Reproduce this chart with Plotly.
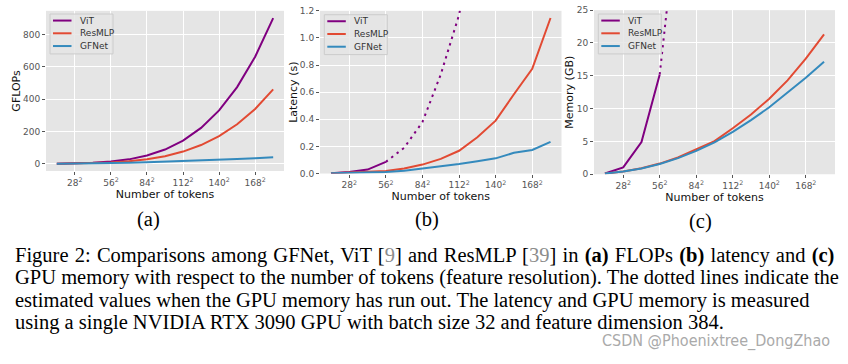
import plotly.graph_objects as go

# ---------------- data ----------------
sides = [14, 28, 42, 56, 70, 84, 98, 112, 126, 140, 154, 168, 182]
tick_sides = [28, 56, 84, 112, 140, 168]
tick_labels = ["28<sup>2</sup>", "56<sup>2</sup>", "84<sup>2</sup>", "112<sup>2</sup>",
               "140<sup>2</sup>", "168<sup>2</sup>"]

# (a) GFLOPs
vit_flops = [0.4, 1.9, 5.5, 13.1, 27.1, 50.7, 87.8, 143, 222, 330, 474, 662, 901]
resmlp_flops = [0.25, 1.2, 3.3, 7.5, 15.0, 27.4, 46.7, 75.2, 115.5, 170.6, 244, 339, 460]
gfnet_flops = [0.24, 0.95, 2.1, 3.8, 5.9, 8.5, 11.6, 15.1, 19.1, 23.6, 28.6, 34.0, 40.0]

# (b) latency (s)
vit_lat_sides = [14, 28, 42, 56]
vit_lat = [0.003, 0.011, 0.029, 0.086]
vit_lat_est_sides = [56, 70, 84, 98, 112, 126]
vit_lat_est = [0.086, 0.19, 0.38, 0.73, 1.17, 1.85]
resmlp_lat = [0.003, 0.007, 0.012, 0.019, 0.037, 0.066, 0.108, 0.168, 0.268, 0.39, 0.585, 0.772, 1.147]
gfnet_lat = [0.002, 0.004, 0.007, 0.012, 0.021, 0.036, 0.055, 0.071, 0.091, 0.112, 0.153, 0.174, 0.234]

# (c) memory (GB)
vit_mem_sides = [14, 28, 42, 56]
vit_mem = [0.1, 1.05, 4.9, 15.2]
vit_mem_est_sides = [56, 70, 84]
vit_mem_est = [15.2, 34.5, 66.0]
resmlp_mem = [0.1, 0.42, 0.92, 1.62, 2.55, 3.75, 5.05, 7.0, 9.1, 11.5, 14.3, 17.6, 21.3]
gfnet_mem = [0.1, 0.4, 0.88, 1.55, 2.45, 3.55, 4.85, 6.45, 8.25, 10.2, 12.45, 14.7, 17.15]

names = ["ViT", "ResMLP", "GFNet"]
colors = {"ViT": "#800080", "ResMLP": "#E24A33", "GFNet": "#348ABD"}

# ---------------- layout helpers ----------------
W, H = 848, 364
def px(x):
    return x / W
def py(y):
    return 1 - y / H
def xd(a, b):
    return [px(a), px(b)]
def yd(top, bottom):
    return [py(bottom), py(top)]

TICKFONT = dict(family="DejaVu Sans", size=9, color="#555555")
TITLEFONT = dict(family="DejaVu Sans", size=11, color="#111111")
LW = 2
DOT = "2.4px,4.4px"

fig = go.Figure()

def add(x, y, name, ax, dash=None):
    fig.add_trace(go.Scatter(
        x=x, y=y, mode="lines", name=name,
        line=dict(color=colors[name], width=LW, dash=dash),
        xaxis="x" + ax, yaxis="y" + ax,
        showlegend=False, hoverinfo="skip"))

# panel a
add(sides, vit_flops, "ViT", "")
add(sides, resmlp_flops, "ResMLP", "")
add(sides, gfnet_flops, "GFNet", "")
# panel b
add(vit_lat_sides, vit_lat, "ViT", "2")
add(vit_lat_est_sides, vit_lat_est, "ViT", "2", dash=DOT)
add(sides, resmlp_lat, "ResMLP", "2")
add(sides, gfnet_lat, "GFNet", "2")
# panel c
add(vit_mem_sides, vit_mem, "ViT", "3")
add(vit_mem_est_sides, vit_mem_est, "ViT", "3", dash=DOT)
add(sides, resmlp_mem, "ResMLP", "3")
add(sides, gfnet_mem, "GFNet", "3")

def xaxis(dom, anchor):
    return dict(domain=dom, anchor=anchor, range=[5.6, 190.4],
                tickvals=tick_sides, ticktext=tick_labels,
                ticks="outside", ticklen=3, tickcolor="#555555", tickwidth=1,
                tickfont=TICKFONT, showgrid=True, gridcolor="white", gridwidth=1.3,
                zeroline=False, showline=False,
                title=dict(text="Number of tokens", font=TITLEFONT, standoff=2))

def yaxis(dom, anchor, rng, dtick, fmt, title):
    return dict(domain=dom, anchor=anchor, range=rng, dtick=dtick, tick0=0,
                tickformat=fmt,
                ticks="outside", ticklen=3, tickcolor="#555555", tickwidth=1,
                tickfont=TICKFONT, showgrid=True, gridcolor="white", gridwidth=1.3,
                zeroline=False, showline=False,
                title=dict(text=title, font=TITLEFONT, standoff=0))

fig.update_layout(
    width=W, height=H, margin=dict(l=0, r=0, t=0, b=0),
    paper_bgcolor="white", plot_bgcolor="#E5E5E5",
    xaxis=xaxis(xd(46, 284), "y"),
    yaxis=yaxis(yd(6, 170.7), "x", [-45, 946], 200, "d", "GFLOPs"),
    xaxis2=xaxis(xd(320, 561.5), "y2"),
    yaxis2=yaxis(yd(6, 173.3), "x2", [0, 1.2], 0.2, ".1f", "Latency (s)"),
    xaxis3=xaxis(xd(594, 835), "y3"),
    yaxis3=yaxis(yd(5.3, 174), "x3", [0, 25], 5, "d", "Memory (GB)"),
    showlegend=False,
)

# ---------------- legends (matplotlib-style boxes) ----------------
def legend_box(x0, y0):
    fig.add_shape(type="rect", xref="paper", yref="paper",
                  x0=px(x0), x1=px(x0 + 63), y0=py(y0 + 41), y1=py(y0),
                  fillcolor="rgba(229,229,229,0.85)", line=dict(color="#cccccc", width=1),
                  layer="above")
    for i, n in enumerate(names):
        yy = y0 + 6.7 + i * 13.1
        fig.add_shape(type="line", xref="paper", yref="paper",
                      x0=px(x0 + 3), x1=px(x0 + 21.5), y0=py(yy), y1=py(yy),
                      line=dict(color=colors[n], width=LW), layer="above")
        fig.add_annotation(text=n, x=px(x0 + 27.5), y=py(yy), xref="paper", yref="paper",
                           xanchor="left", yanchor="middle", showarrow=False,
                           font=dict(family="DejaVu Sans", size=9, color="#333333"))

legend_box(50, 9.3)
legend_box(324.3, 10)
legend_box(598.3, 9.3)

SERIF = "Liberation Serif, Times New Roman, serif"
def note(text, x, y, size=20.5, color="#000000", family=SERIF, xanchor="center"):
    fig.add_annotation(text=text, x=px(x), y=py(y), xref="paper", yref="paper",
                       xanchor=xanchor, yanchor="middle", showarrow=False,
                       font=dict(family=family, size=size, color=color))

note("(a)", 148, 220.7)
note("(b)", 427, 220.7)
note("(c)", 700.7, 222.7)

C = "<span style='color:#8c8c8c'>%s</span>"
captions = [
    "<span style='word-spacing:1.1px'>Figure 2: Comparisons among GFNet, ViT [" + C % "9" +
    "] and ResMLP [" + C % "39" + "] in <b>(a)</b> FLOPs <b>(b)</b> latency and <b>(c)</b></span>",
    "GPU memory with respect to the number of tokens (feature resolution). The dotted lines indicate the",
    "estimated values when the GPU memory has run out. The latency and GPU memory is measured",
    "using a single NVIDIA RTX 3090 GPU with batch size 32 and feature dimension 384.",
]
for i, line in enumerate(captions):
    note(line, 12.7, 258 + i * 22.7, xanchor="left")

note("CSDN @Phoenixtree_DongZhao", 832, 345, size=16, color="#aaaaaa",
     family="DejaVu Sans Condensed, DejaVu Sans, sans-serif", xanchor="right")

fig.write_html("out.html", config={"displayModeBar": False},
               post_script="document.body.style.margin='0px';")
